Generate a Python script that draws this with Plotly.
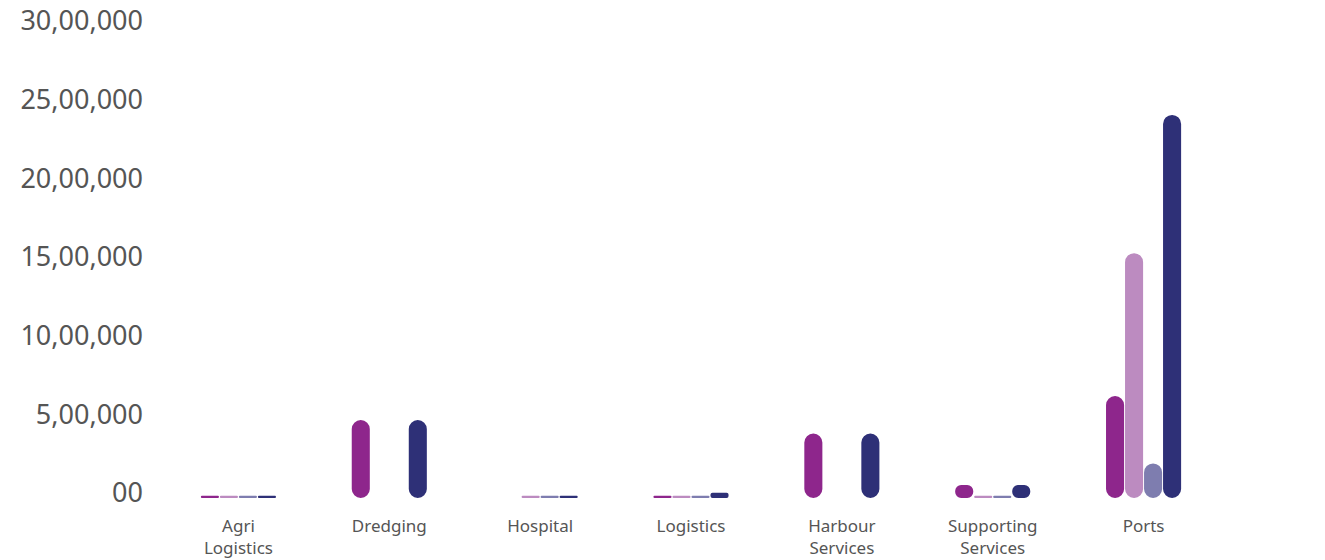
import plotly.graph_objects as go

# ---------------- data ----------------
categories = ["Agri<br>Logistics", "Dredging", "Hospital", "Logistics",
              "Harbour<br>Services", "Supporting<br>Services", "Ports"]
series_names = ["Series A", "Series B", "Series C", "Series D"]
series_a = [15000, 495000, None, 15000, 410000, 83000, 648000]
series_b = [15000, 0, 15000, 15000, 0, 15000, 1556000]
series_c = [15000, 0, 15000, 15000, 0, 15000, 220000]
series_d = [15000, 495000, 15000, 34000, 410000, 83000, 2435000]
tick_values = [0, 500000, 1000000, 1500000, 2000000, 2500000, 3000000]
tick_labels = ["00", "5,00,000", "10,00,000", "15,00,000", "20,00,000",
               "25,00,000", "30,00,000"]

# ---------------- style ----------------
colors = ["#8E268C", "#BC8BC0", "#7E7DAF", "#2E3077"]
W, H = 1325, 560
M = dict(l=155, r=114, t=18, b=70)
Y_MAX = 3000000
plot_h = H - M["t"] - M["b"]
px_per_unit = plot_h / Y_MAX
BAR_R = 9

fig = go.Figure()
all_series = [series_a, series_b, series_c, series_d]
for s, (name, vals) in enumerate(zip(series_names, all_series)):
    for cat, v in zip(categories, vals):
        if v is None or v <= 0:
            continue
        h = v * px_per_unit
        r = min(BAR_R, h / 2)
        fig.add_trace(go.Bar(
            x=[cat], y=[v], base=[0],
            offsetgroup=str(s), name=name, showlegend=False,
            marker=dict(color=colors[s], cornerradius=r, line=dict(width=0)),
            hoverinfo="skip",
        ))

fig.update_layout(
    width=W, height=H, margin=M,
    barmode="group", bargap=0.496, bargroupgap=0.05,
    plot_bgcolor="white", paper_bgcolor="white",
    showlegend=False,
    font=dict(family="Noto Sans", color="#555555"),
)
fig.update_xaxes(
    type="category", categoryorder="array", categoryarray=categories,
    showgrid=False, zeroline=False, showline=False, ticks="",
    tickfont=dict(size=17, color="#555555"), ticklabelstandoff=16,
    range=[-0.5, 6.5], automargin=False, ticklabeloverflow="allow",
)
fig.update_yaxes(
    range=[0, Y_MAX], tickvals=tick_values, ticktext=tick_labels,
    showgrid=False, zeroline=False, showline=False, ticks="",
    tickfont=dict(size=27, color="#555555"), ticklabelstandoff=19,
    ticklabelshift=-5, automargin=False, ticklabeloverflow="allow",
)

fig.write_html("out.html")
